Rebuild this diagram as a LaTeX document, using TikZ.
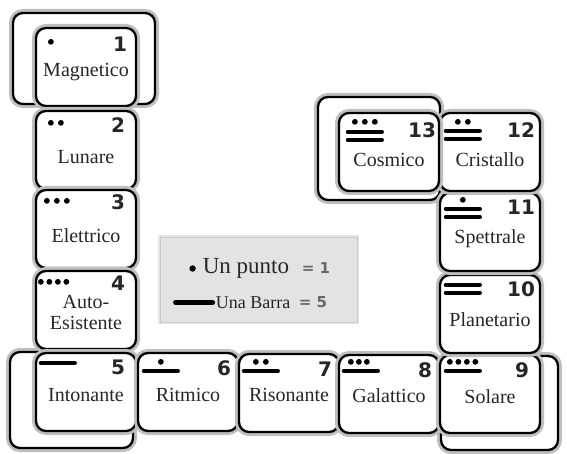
\documentclass[tikz,border=0pt]{standalone}
\usepackage{fontspec}
\setmainfont{Liberation Serif}
\newfontfamily\numfont{DejaVu Sans}
\usetikzlibrary{calc}

\tikzset{
  card/.style={rectangle, rounded corners=10pt, draw, line width=2.3pt, fill=white,
    minimum width=100, minimum height=78, inner sep=0pt,
    preaction={draw=black!25, line width=8pt}},
  num/.style={anchor=east, inner sep=0pt, font=\numfont\bfseries\fontsize{20}{20}\selectfont, text=black!85},
  lab/.style={inner sep=0pt, align=center, font=\fontsize{20}{21}\selectfont, text=black!85},
  bar/.style={line width=4.2pt, line cap=round},
  legend/.style={rectangle, fill=gray!22, draw=gray!40, line width=0.8pt,
    minimum width=197, minimum height=85, preaction={draw=gray!20, line width=4pt}},
  eq/.style={anchor=west, inner sep=0pt, font=\numfont\bfseries\fontsize{15}{15}\selectfont, text=black!60}
}

\begin{document}
\begin{tikzpicture}[x=1pt, y=-1pt]
\useasboundingbox (0,0) rectangle (567,454);

% cards behind
\node[card, minimum width=142, minimum height=91] (o1) at (84,58.5) {};
\node[card, minimum width=123, minimum height=96] (o5) at (71.5,400) {};
\node[card, minimum width=117, minimum height=94] (o9) at (499.5,403) {};
\node[card, minimum width=122, minimum height=103] (o13) at (379,148.5) {};

% left column
\node[card] (c1) at (86,67) {};
\node[card] (c2) at (86,150) {};
\node[card] (c3) at (86,229) {};
\node[card] (c4) at (86,310) {};
\node[card] (c5) at (86,392) {};
% bottom row
\node[card] (c6) at (188,392) {};
\node[card] (c7) at (289,393) {};
\node[card] (c8) at (389,394) {};
\node[card] (c9) at (490,394) {};
% right column
\node[card] (c10) at (490,314) {};
\node[card] (c11) at (490,232) {};
\node[card] (c12) at (490,152) {};
\node[card] (c13) at (389,152) {};

% numbers
\node[num] (n1) at ($(c1.north east)+(-10,17)$) {1};
\node[num] (n2) at ($(c2.north east)+(-12,15)$) {2};
\node[num] (n3) at ($(c3.north east)+(-12,13)$) {3};
\node[num] (n4) at ($(c4.north east)+(-12,13)$) {4};
\node[num] (n5) at ($(c5.north east)+(-12,15)$) {5};
\node[num] (n6) at ($(c6.north east)+(-8,16)$) {6};
\node[num] (n7) at ($(c7.north east)+(-8,16)$) {7};
\node[num] (n8) at ($(c8.north east)+(-8,16)$) {8};
\node[num] (n9) at ($(c9.north east)+(-12,16)$) {9};
\node[num] (n10) at ($(c10.north east)+(-6,15)$) {10};
\node[num] (n11) at ($(c11.north east)+(-6,15)$) {11};
\node[num] (n12) at ($(c12.north east)+(-6,18)$) {12};
\node[num] (n13) at ($(c13.north east)+(-4,18)$) {13};

% names
\node[lab] (l1) at ($(c1.north)+(0,45)$) {Magnetico};
\node[lab] (l2) at ($(c2.north)+(0,47)$) {Lunare};
\node[lab] (l3) at ($(c3.north)+(0,47)$) {Elettrico};
\node[lab] (l4) at ($(c4.north)+(0,43)$) {Auto-\\Esistente};
\node[lab] (l5) at ($(c5.north)+(0,43)$) {Intonante};
\node[lab] (l6) at ($(c6.north)+(0,43)$) {Ritmico};
\node[lab] (l7) at ($(c7.north)+(0,42)$) {Risonante};
\node[lab] (l8) at ($(c8.north)+(0,42)$) {Galattico};
\node[lab] (l9) at ($(c9.north)+(0,43)$) {Solare};
\node[lab] (l10) at ($(c10.north)+(0,46)$) {Planetario};
\node[lab] (l11) at ($(c11.north)+(0,47)$) {Spettrale};
\node[lab] (l12) at ($(c12.north)+(0,48)$) {Cristallo};
\node[lab] (l13) at ($(c13.north)+(0,48)$) {Cosmico};

% dots and bars
\fill ($(c1.north west)+(16,15)$) circle (2.9pt);
\fill ($(c2.north west)+(16,13)$) circle (2.9pt);
\fill ($(c2.north west)+(26,13)$) circle (2.9pt);
\fill ($(c3.north west)+(12,12)$) circle (2.9pt);
\fill ($(c3.north west)+(22,12)$) circle (2.9pt);
\fill ($(c3.north west)+(32,12)$) circle (2.9pt);
\fill ($(c4.north west)+(6,12)$) circle (2.9pt);
\fill ($(c4.north west)+(14.5,12)$) circle (2.9pt);
\fill ($(c4.north west)+(23,12)$) circle (2.9pt);
\fill ($(c4.north west)+(31.5,12)$) circle (2.9pt);
\draw[bar] ($(c5.north west)+(6,11)$) -- ++(34,0);

\draw[bar] ($(c6.north west)+(7,19)$) -- ++(34,0);
\fill ($(c6.north west)+(24,10)$) circle (2.9pt);
\draw[bar] ($(c7.north west)+(6,18)$) -- ++(34,0);
\fill ($(c7.north west)+(18,9)$) circle (2.9pt);
\fill ($(c7.north west)+(28,9)$) circle (2.9pt);
\draw[bar] ($(c8.north west)+(6,17)$) -- ++(34,0);
\fill ($(c8.north west)+(13,8)$) circle (2.9pt);
\fill ($(c8.north west)+(21,8)$) circle (2.9pt);
\fill ($(c8.north west)+(29,8)$) circle (2.9pt);
\draw[bar] ($(c9.north west)+(7,17)$) -- ++(34,0);
\fill ($(c9.north west)+(11,8)$) circle (2.9pt);
\fill ($(c9.north west)+(19.5,8)$) circle (2.9pt);
\fill ($(c9.north west)+(28,8)$) circle (2.9pt);
\fill ($(c9.north west)+(36.5,8)$) circle (2.9pt);

\draw[bar] ($(c10.north west)+(7,11)$) -- ++(34,0);
\draw[bar] ($(c10.north west)+(7,19)$) -- ++(34,0);
\draw[bar] ($(c11.north west)+(7,17)$) -- ++(34,0);
\draw[bar] ($(c11.north west)+(7,25)$) -- ++(34,0);
\fill ($(c11.north west)+(24,8)$) circle (2.9pt);
\draw[bar] ($(c12.north west)+(7,19)$) -- ++(34,0);
\draw[bar] ($(c12.north west)+(7,27)$) -- ++(34,0);
\fill ($(c12.north west)+(19,10)$) circle (2.9pt);
\fill ($(c12.north west)+(29,10)$) circle (2.9pt);
\draw[bar] ($(c13.north west)+(10,20)$) -- ++(34,0);
\draw[bar] ($(c13.north west)+(10,28)$) -- ++(34,0);
\fill ($(c13.north west)+(17,10)$) circle (2.9pt);
\fill ($(c13.north west)+(27,10)$) circle (2.9pt);
\fill ($(c13.north west)+(37,10)$) circle (2.9pt);

% legend
\node[legend] (key) at (258.5,279.5) {};
\fill ($(key.west)+(33,-11)$) circle (3.2pt);
\node[lab, anchor=west, font=\fontsize{23}{24}\selectfont] (punto) at ($(key.west)+(43,-11)$) {Un punto};
\node[eq] (eq1) at ($(key.west)+(142,-11)$) {= 1};
\draw[line width=5pt, line cap=round] ($(key.west)+(16,23)$) -- ++(37,0);
\node[lab, anchor=west, font=\fontsize{18}{19}\selectfont] (barra) at ($(key.west)+(56,23)$) {Una Barra};
\node[eq] (eq5) at ($(key.west)+(139,23)$) {= 5};
\end{tikzpicture}
\end{document}
